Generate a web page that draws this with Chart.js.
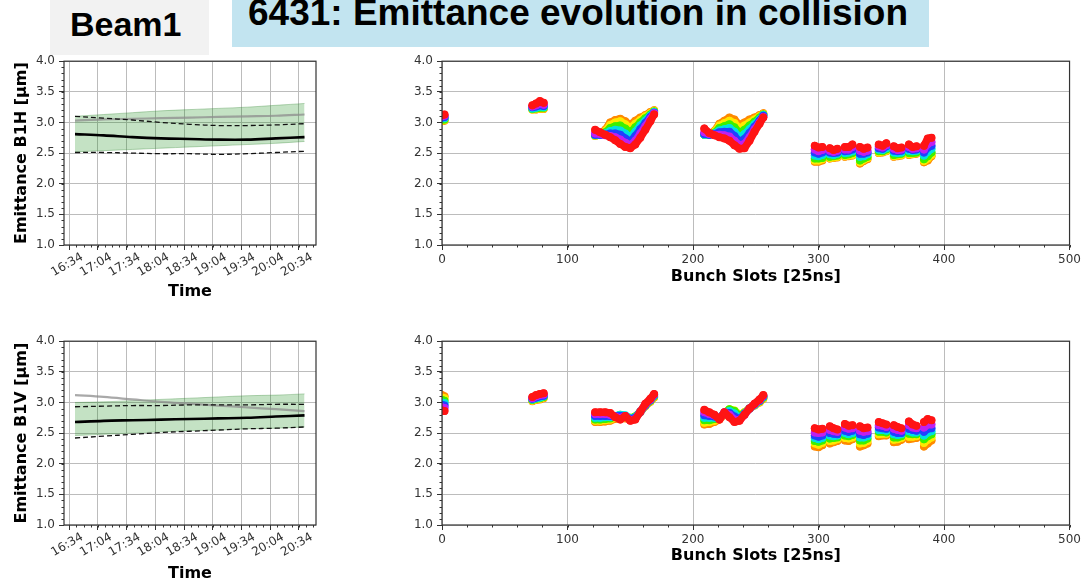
<!DOCTYPE html>
<html>
<head>
<meta charset="utf-8">
<title>6431: Emittance evolution in collision</title>
<script src="https://cdn.jsdelivr.net/npm/chart.js@4.4.1/dist/chart.umd.min.js"></script>
<style>
  body { margin: 0; width: 1084px; height: 582px; background: #fff; position: relative; overflow: hidden; font-family: "Liberation Sans", Arial, sans-serif; }
  .head { position: absolute; z-index: 2; }
  #beam-box { left: 50px; top: 0; width: 159px; height: 55px; background: #f2f2f2; }
  #beam-box span { position: absolute; left: 20px; top: 7px; font-size: 34px; line-height: 34px; font-weight: bold; color: #000; white-space: nowrap; }
  #title-box { left: 232px; top: 0; width: 697px; height: 47px; background: #c2e4f0; overflow: hidden; }
  #title-box span { position: absolute; left: 16px; top: -6px; font-size: 37px; line-height: 37px; font-weight: bold; color: #000; white-space: nowrap; }
  canvas { position: absolute; }
</style>
</head>
<body>
<div class="head" id="beam-box"><span>Beam1</span></div>
<div class="head" id="title-box"><span>6431: Emittance evolution in collision</span></div>
<canvas id="b1hTime" width="330" height="260" style="left:0;top:50px"></canvas>
<canvas id="b1hSlots" width="754" height="260" style="left:330px;top:50px"></canvas>
<canvas id="b1vTime" width="330" height="254" style="left:0;top:330px"></canvas>
<canvas id="b1vSlots" width="754" height="254" style="left:330px;top:330px"></canvas>
<script>
// time axis in minutes after 16:34
const timeTicks = [0, 30, 60, 90, 120, 150, 180, 210, 240];
const timeTickLabels = ['16:34', '17:04', '17:34', '18:04', '18:34', '19:04', '19:34', '20:04', '20:34'];
const sampleMinutes = [6, 36, 66, 96, 126, 156, 186, 216, 246];

// B1H summary vs time
const b1hMean = [2.81, 2.79, 2.76, 2.74, 2.73, 2.72, 2.72, 2.74, 2.76];
const b1hUpper = [3.10, 3.07, 3.04, 3.00, 2.97, 2.95, 2.95, 2.96, 2.98];
const b1hLower = [2.51, 2.51, 2.50, 2.49, 2.49, 2.48, 2.49, 2.51, 2.53];
const b1hRef = [3.03, 3.05, 3.06, 3.07, 3.08, 3.09, 3.10, 3.11, 3.13];
const b1hBandTop = [3.10, 3.13, 3.16, 3.19, 3.21, 3.23, 3.25, 3.28, 3.31];
const b1hBandBottom = [2.52, 2.54, 2.56, 2.58, 2.60, 2.62, 2.64, 2.66, 2.69];

// B1V summary vs time
const b1vMean = [2.68, 2.70, 2.71, 2.72, 2.73, 2.74, 2.75, 2.77, 2.79];
const b1vUpper = [2.93, 2.94, 2.95, 2.95, 2.96, 2.96, 2.96, 2.97, 2.97];
const b1vLower = [2.42, 2.45, 2.48, 2.51, 2.53, 2.55, 2.57, 2.58, 2.60];
const b1vRef = [3.12, 3.09, 3.05, 3.01, 2.98, 2.95, 2.92, 2.89, 2.86];
const b1vBandTop = [3.00, 3.01, 3.03, 3.05, 3.07, 3.09, 3.11, 3.12, 3.14];
const b1vBandBottom = [2.46, 2.48, 2.50, 2.52, 2.54, 2.55, 2.57, 2.58, 2.60];

// filled bunch slots (sampled along each train)
const bunchSlots = [
  0, 2,
  72, 75, 78, 81,
  122, 126, 130, 134, 138, 142, 146, 150, 154, 158, 162, 166, 169,
  209, 213, 217, 221, 225, 229, 233, 237, 241, 245, 249, 253, 256,
  297, 300, 303, 309, 312, 315, 321, 324, 327, 333, 336, 339,
  348, 351, 354, 360, 363, 366, 372, 375, 378, 384, 387, 390
];

// one colour per scan, first scan to last
const scanColors = ['#ff8a00', '#ffe800', '#3cf000', '#00e0e0', '#2040ff', '#c020f0', '#ff1414'];

// B1H per-bunch emittance, one array per scan
const b1hScan1 = [3.02, 3.03,
  3.21, 3.21, 3.22, 3.22,
  2.78, 2.80, 2.88, 3.00, 3.04, 3.06, 3.02, 2.96, 3.03, 3.08, 3.12, 3.17, 3.20,
  2.80, 2.80, 2.86, 2.98, 3.03, 3.08, 3.05, 2.96, 3.00, 3.05, 3.08, 3.12, 3.15,
  2.36, 2.36, 2.38, 2.41, 2.42, 2.43, 2.44, 2.45, 2.46, 2.33, 2.37, 2.40,
  2.50, 2.51, 2.53, 2.44, 2.45, 2.46, 2.47, 2.48, 2.49, 2.35, 2.38, 2.45];
const b1hScan2 = [3.03, 3.04,
  3.21, 3.22, 3.23, 3.23,
  2.78, 2.80, 2.86, 2.96, 3.00, 3.02, 2.97, 2.91, 2.98, 3.04, 3.10, 3.15, 3.19,
  2.80, 2.80, 2.85, 2.95, 2.99, 3.03, 2.99, 2.90, 2.95, 3.00, 3.05, 3.10, 3.14,
  2.38, 2.38, 2.40, 2.42, 2.43, 2.44, 2.45, 2.46, 2.47, 2.35, 2.39, 2.42,
  2.51, 2.52, 2.54, 2.45, 2.46, 2.47, 2.48, 2.49, 2.50, 2.37, 2.41, 2.47];
const b1hScan3 = [3.05, 3.05,
  3.22, 3.23, 3.24, 3.24,
  2.79, 2.80, 2.84, 2.91, 2.94, 2.95, 2.90, 2.84, 2.92, 3.00, 3.07, 3.13, 3.18,
  2.80, 2.80, 2.83, 2.91, 2.94, 2.97, 2.92, 2.83, 2.88, 2.95, 3.01, 3.08, 3.13,
  2.41, 2.41, 2.42, 2.44, 2.45, 2.46, 2.47, 2.48, 2.50, 2.38, 2.41, 2.44,
  2.53, 2.53, 2.56, 2.47, 2.48, 2.49, 2.50, 2.50, 2.51, 2.40, 2.45, 2.51];
const b1hScan4 = [3.07, 3.07,
  3.23, 3.24, 3.26, 3.25,
  2.79, 2.80, 2.82, 2.86, 2.88, 2.87, 2.82, 2.76, 2.85, 2.95, 3.03, 3.11, 3.17,
  2.80, 2.80, 2.82, 2.87, 2.89, 2.91, 2.85, 2.76, 2.81, 2.89, 2.97, 3.05, 3.12,
  2.46, 2.45, 2.47, 2.48, 2.47, 2.49, 2.50, 2.51, 2.53, 2.44, 2.45, 2.48,
  2.56, 2.55, 2.58, 2.51, 2.50, 2.51, 2.54, 2.53, 2.54, 2.46, 2.52, 2.57];
const b1hScan5 = [3.08, 3.09,
  3.25, 3.26, 3.28, 3.27,
  2.80, 2.80, 2.80, 2.82, 2.82, 2.80, 2.74, 2.69, 2.78, 2.89, 2.99, 3.09, 3.16,
  2.81, 2.80, 2.81, 2.84, 2.85, 2.85, 2.78, 2.69, 2.73, 2.83, 2.93, 3.03, 3.11,
  2.51, 2.49, 2.51, 2.51, 2.50, 2.51, 2.53, 2.54, 2.56, 2.49, 2.49, 2.51,
  2.58, 2.57, 2.61, 2.54, 2.53, 2.54, 2.57, 2.55, 2.56, 2.51, 2.59, 2.62];
const b1hScan6 = [3.10, 3.11,
  3.26, 3.28, 3.31, 3.29,
  2.82, 2.81, 2.79, 2.78, 2.76, 2.72, 2.67, 2.63, 2.70, 2.82, 2.94, 3.06, 3.15,
  2.84, 2.81, 2.80, 2.80, 2.79, 2.77, 2.70, 2.63, 2.65, 2.76, 2.89, 3.00, 3.09,
  2.56, 2.53, 2.55, 2.54, 2.52, 2.54, 2.56, 2.56, 2.60, 2.54, 2.52, 2.54,
  2.61, 2.59, 2.63, 2.57, 2.55, 2.56, 2.60, 2.57, 2.58, 2.56, 2.65, 2.68];
const b1hScan7 = [3.12, 3.13,
  3.28, 3.31, 3.35, 3.32,
  2.88, 2.84, 2.80, 2.76, 2.71, 2.65, 2.60, 2.58, 2.64, 2.75, 2.88, 3.02, 3.13,
  2.90, 2.83, 2.79, 2.76, 2.74, 2.70, 2.63, 2.57, 2.58, 2.70, 2.85, 2.98, 3.08,
  2.62, 2.59, 2.60, 2.58, 2.55, 2.57, 2.60, 2.60, 2.64, 2.60, 2.57, 2.59,
  2.64, 2.62, 2.66, 2.61, 2.58, 2.59, 2.64, 2.60, 2.61, 2.62, 2.74, 2.75];

// B1V per-bunch emittance, one array per scan
const b1vScan1 = [3.12, 3.10,
  3.02, 3.04, 3.05, 3.07,
  2.68, 2.68, 2.69, 2.70, 2.73, 2.76, 2.74, 2.73, 2.76, 2.84, 2.94, 3.01, 3.08,
  2.64, 2.65, 2.68, 2.72, 2.80, 2.88, 2.86, 2.80, 2.84, 2.90, 2.95, 3.00, 3.06,
  2.28, 2.27, 2.30, 2.33, 2.35, 2.37, 2.38, 2.37, 2.40, 2.28, 2.30, 2.33,
  2.45, 2.46, 2.46, 2.35, 2.36, 2.39, 2.40, 2.41, 2.42, 2.28, 2.33, 2.38];
const b1vScan2 = [3.08, 3.07,
  3.03, 3.05, 3.06, 3.08,
  2.70, 2.70, 2.71, 2.72, 2.75, 2.78, 2.76, 2.74, 2.77, 2.85, 2.95, 3.02, 3.09,
  2.67, 2.68, 2.70, 2.74, 2.82, 2.89, 2.87, 2.80, 2.84, 2.90, 2.95, 3.01, 3.07,
  2.33, 2.31, 2.34, 2.37, 2.38, 2.40, 2.42, 2.41, 2.43, 2.33, 2.34, 2.37,
  2.48, 2.49, 2.49, 2.39, 2.40, 2.42, 2.44, 2.44, 2.45, 2.34, 2.39, 2.43];
const b1vScan3 = [3.04, 3.03,
  3.04, 3.06, 3.07, 3.09,
  2.72, 2.72, 2.73, 2.74, 2.77, 2.80, 2.78, 2.75, 2.77, 2.85, 2.95, 3.03, 3.10,
  2.71, 2.71, 2.73, 2.75, 2.83, 2.89, 2.86, 2.78, 2.83, 2.90, 2.96, 3.02, 3.08,
  2.37, 2.36, 2.38, 2.41, 2.42, 2.43, 2.46, 2.45, 2.47, 2.38, 2.38, 2.41,
  2.52, 2.52, 2.51, 2.43, 2.43, 2.45, 2.49, 2.48, 2.48, 2.40, 2.45, 2.48];
const b1vScan4 = [3.00, 2.99,
  3.05, 3.07, 3.08, 3.10,
  2.75, 2.75, 2.76, 2.76, 2.78, 2.80, 2.79, 2.74, 2.76, 2.85, 2.96, 3.04, 3.11,
  2.75, 2.75, 2.75, 2.75, 2.83, 2.86, 2.82, 2.75, 2.82, 2.90, 2.96, 3.03, 3.09,
  2.42, 2.40, 2.42, 2.46, 2.45, 2.46, 2.50, 2.48, 2.50, 2.43, 2.43, 2.45,
  2.55, 2.55, 2.54, 2.48, 2.47, 2.48, 2.53, 2.51, 2.51, 2.46, 2.51, 2.53];
const b1vScan5 = [2.96, 2.95,
  3.06, 3.08, 3.10, 3.11,
  2.78, 2.78, 2.78, 2.78, 2.78, 2.78, 2.78, 2.73, 2.75, 2.85, 2.96, 3.04, 3.12,
  2.79, 2.78, 2.77, 2.74, 2.83, 2.83, 2.77, 2.73, 2.81, 2.90, 2.97, 3.03, 3.10,
  2.46, 2.44, 2.46, 2.50, 2.49, 2.48, 2.54, 2.52, 2.54, 2.48, 2.47, 2.49,
  2.59, 2.58, 2.57, 2.52, 2.50, 2.50, 2.57, 2.55, 2.54, 2.52, 2.57, 2.58];
const b1vScan6 = [2.92, 2.91,
  3.07, 3.10, 3.12, 3.13,
  2.81, 2.81, 2.81, 2.80, 2.77, 2.75, 2.78, 2.71, 2.73, 2.85, 2.97, 3.05, 3.13,
  2.84, 2.81, 2.79, 2.73, 2.84, 2.80, 2.72, 2.71, 2.80, 2.90, 2.97, 3.04, 3.11,
  2.51, 2.50, 2.51, 2.55, 2.53, 2.52, 2.59, 2.57, 2.58, 2.54, 2.52, 2.53,
  2.63, 2.62, 2.60, 2.57, 2.55, 2.54, 2.63, 2.59, 2.58, 2.59, 2.64, 2.64];
const b1vScan7 = [2.87, 2.86,
  3.09, 3.12, 3.14, 3.15,
  2.84, 2.84, 2.84, 2.83, 2.76, 2.72, 2.78, 2.70, 2.72, 2.85, 2.98, 3.06, 3.14,
  2.88, 2.84, 2.80, 2.72, 2.84, 2.76, 2.68, 2.70, 2.80, 2.90, 2.98, 3.05, 3.12,
  2.58, 2.56, 2.57, 2.61, 2.58, 2.56, 2.65, 2.62, 2.63, 2.61, 2.58, 2.59,
  2.68, 2.66, 2.64, 2.63, 2.60, 2.58, 2.69, 2.64, 2.62, 2.68, 2.73, 2.71];

const b1hScans = [b1hScan1, b1hScan2, b1hScan3, b1hScan4, b1hScan5, b1hScan6, b1hScan7];
const b1vScans = [b1vScan1, b1vScan2, b1vScan3, b1vScan4, b1vScan5, b1vScan6, b1vScan7];

const tickFont = { family: 'DejaVu Sans', size: 12 };
const titleFont = { family: 'DejaVu Sans', size: 16, weight: 'bold' };
const gridStyle = { color: '#bcbcbc', tickColor: '#333', tickLength: 5, lineWidth: 1 };

// box around the plot area plus small minor ticks, matplotlib style
const axesFrame = {
    id: 'axesFrame',
    afterDraw(chart, args, opts) {
        const { ctx, chartArea: a, scales } = chart;
        ctx.save();
        ctx.strokeStyle = '#333';
        ctx.lineWidth = 1;
        ctx.beginPath();
        for (let v = Math.ceil(scales.x.min / opts.xStep) * opts.xStep; v <= scales.x.max; v += opts.xStep) {
            const px = Math.round(scales.x.getPixelForValue(v)) + 0.5;
            ctx.moveTo(px, a.bottom);
            ctx.lineTo(px, a.bottom + 2.5);
        }
        for (let v = 1; v <= 4.001; v += 0.1) {
            const py = Math.round(scales.y.getPixelForValue(v)) + 0.5;
            ctx.moveTo(a.left, py);
            ctx.lineTo(a.left - 2.5, py);
        }
        ctx.stroke();
        ctx.lineWidth = 1.2;
        ctx.strokeRect(a.left, a.top, a.width, a.height);
        ctx.restore();
    }
};

function emittanceAxis(width, title) {
    return {
        min: 1, max: 4,
        afterFit: scale => { scale.width = width; },
        ticks: { stepSize: 0.5, font: tickFont, color: '#333', padding: 4, callback: v => v.toFixed(1) },
        grid: gridStyle,
        border: { display: false },
        title: title
            ? { display: true, text: title, font: titleFont, color: '#000', padding: { top: 12, bottom: 0 } }
            : { display: false }
    };
}

function timeAxis(height, titlePad) {
    return {
        type: 'linear', min: -5.5, max: 258,
        afterFit: scale => { scale.height = height; },
        afterBuildTicks: scale => { scale.ticks = timeTicks.map(v => ({ value: v })); },
        ticks: {
            font: tickFont, color: '#333', padding: 0, autoSkip: false,
            minRotation: 30, maxRotation: 30, labelOffset: 13,
            callback: v => timeTickLabels[timeTicks.indexOf(v)]
        },
        grid: gridStyle,
        border: { display: false },
        title: { display: true, text: 'Time', font: titleFont, color: '#000', padding: { top: 0, bottom: titlePad } }
    };
}

function slotAxis(height, titlePad) {
    return {
        type: 'linear', min: 0, max: 500,
        afterFit: scale => { scale.height = height; },
        ticks: { stepSize: 100, font: tickFont, color: '#333', padding: 3, maxRotation: 0 },
        grid: gridStyle,
        border: { display: false },
        title: { display: true, text: 'Bunch Slots [25ns]', font: titleFont, color: '#000', padding: { top: 0, bottom: titlePad } }
    };
}

function timePoints(values) {
    return sampleMinutes.map((t, i) => ({ x: t, y: values[i] }));
}

function summaryDatasets(mean, upper, lower, ref, bandTop, bandBottom) {
    const line = { showLine: true, pointRadius: 0, tension: 0.35, fill: false };
    return [
        { ...line, data: timePoints(bandTop), borderColor: 'rgba(60,140,60,0.35)', borderWidth: 1,
          backgroundColor: 'rgba(0,128,0,0.23)', fill: '+1', order: 6 },
        { ...line, data: timePoints(bandBottom), borderColor: 'rgba(60,140,60,0.35)', borderWidth: 1, order: 5 },
        { ...line, data: timePoints(ref), borderColor: 'rgba(140,140,140,0.75)', borderWidth: 2.2, order: 4 },
        { ...line, data: timePoints(upper), borderColor: '#111', borderWidth: 1.3, borderDash: [5, 3], order: 3 },
        { ...line, data: timePoints(lower), borderColor: '#111', borderWidth: 1.3, borderDash: [5, 3], order: 2 },
        { ...line, data: timePoints(mean), borderColor: '#000', borderWidth: 2.6, order: 1 }
    ];
}

// break the line between bunch trains
function scanPoints(values) {
    const pts = [];
    bunchSlots.forEach((slot, i) => {
        if (i > 0 && slot - bunchSlots[i - 1] > 5) pts.push({ x: slot - 1, y: null });
        pts.push({ x: slot, y: values[i] });
    });
    return pts;
}

function scanDatasets(scans) {
    return scans.map((values, k) => ({
        data: scanPoints(values),
        showLine: true,
        spanGaps: false,
        borderColor: scanColors[k],
        backgroundColor: scanColors[k],
        borderWidth: 7.5,
        borderCapStyle: 'round',
        borderJoinStyle: 'round',
        pointRadius: 4,
        pointBorderWidth: 0,
        order: scans.length - k,
        clip: 0
    }));
}

function makeChart(id, datasets, xScale, yScale, padTop, padRight, xStep) {
    return new Chart(document.getElementById(id), {
        type: 'scatter',
        data: { datasets: datasets },
        options: {
            responsive: false,
            animation: false,
            layout: { padding: { left: 0, top: padTop, right: padRight, bottom: 0 } },
            scales: { x: xScale, y: yScale },
            plugins: { legend: { display: false }, tooltip: { enabled: false }, axesFrame: { xStep: xStep } }
        },
        plugins: [axesFrame]
    });
}

makeChart('b1hTime', summaryDatasets(b1hMean, b1hUpper, b1hLower, b1hRef, b1hBandTop, b1hBandBottom),
    timeAxis(65, 8.4), emittanceAxis(64, 'Emittance B1H [µm]'), 8, 14, 7.5);
makeChart('b1vTime', summaryDatasets(b1vMean, b1vUpper, b1vLower, b1vRef, b1vBandTop, b1vBandBottom),
    timeAxis(59, 1), emittanceAxis(64, 'Emittance B1V [µm]'), 8, 14, 7.5);
makeChart('b1hSlots', scanDatasets(b1hScans), slotAxis(65, 24), emittanceAxis(112, null), 8, 14, 20);
makeChart('b1vSlots', scanDatasets(b1vScans), slotAxis(59, 18.4), emittanceAxis(112, null), 8, 14, 20);
</script>
</body>
</html>
